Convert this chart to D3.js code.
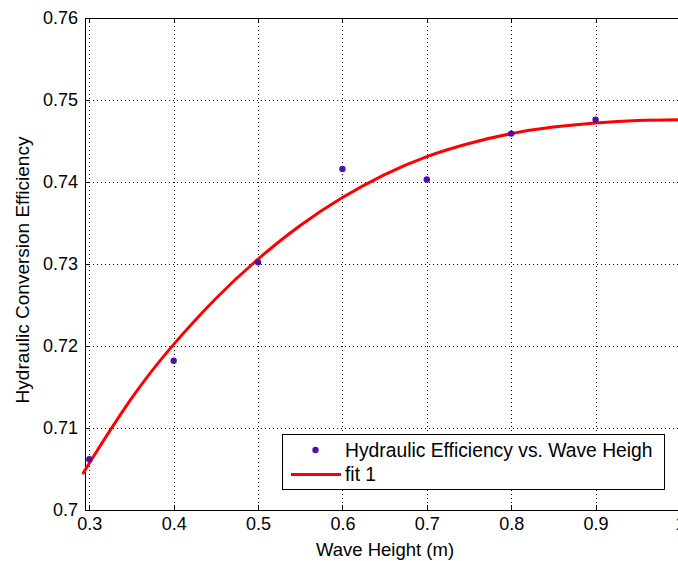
<!DOCTYPE html>
<html>
<head>
<meta charset="utf-8">
<script src="https://d3js.org/d3.v7.min.js"></script>
<style>
  body { margin: 0; background: #fff; }
  svg text { font-family: "Liberation Sans", Arial, sans-serif; fill: #000; }
</style>
</head>
<body>
<div id="chart"></div>
<script>
// measured points
var waveHeight = [0.3, 0.4, 0.5, 0.6, 0.7, 0.8, 0.9];
var efficiency = [0.7062, 0.7182, 0.7302, 0.7416, 0.7403, 0.7459, 0.7476];

// fit curve
var fitX = [0.2949, 0.3, 0.35, 0.4, 0.45, 0.5, 0.55, 0.6, 0.65, 0.7, 0.75, 0.8, 0.85, 0.9, 0.95, 1.0];
var fitY = [0.7048, 0.7057, 0.7136, 0.7202, 0.7258, 0.7306, 0.7347, 0.7381, 0.7409, 0.7431, 0.7447, 0.7459, 0.7467, 0.7472, 0.7475, 0.7476];

var xTicks = [0.3, 0.4, 0.5, 0.6, 0.7, 0.8, 0.9, 1];
var yTicks = [0.7, 0.71, 0.72, 0.73, 0.74, 0.75, 0.76];
var legendLabels = ["Hydraulic Efficiency vs. Wave Heigh", "fit 1"];

var W = 678, H = 561;
var mLeft = 85, mTop = 18, mRight = 680, mBottom = 510;

var x = d3.scaleLinear().domain([0.2949, 1.0]).range([mLeft, mRight]);
var y = d3.scaleLinear().domain([0.7, 0.76]).range([mBottom, mTop]);

var svg = d3.select("#chart").append("svg")
    .attr("width", W).attr("height", H);

// grid
var grid = svg.append("g").attr("stroke", "#000").attr("stroke-width", 1)
    .attr("stroke-dasharray", "1,3").attr("shape-rendering", "crispEdges");
grid.selectAll(".vx").data(xTicks).enter().append("line")
    .attr("x1", function(d) { return Math.round(x(d)) + 0.5; })
    .attr("x2", function(d) { return Math.round(x(d)) + 0.5; })
    .attr("y1", mTop).attr("y2", mBottom);
grid.selectAll(".hy").data(yTicks.slice(1, -1)).enter().append("line")
    .attr("y1", function(d) { return Math.round(y(d)) + 0.5; })
    .attr("y2", function(d) { return Math.round(y(d)) + 0.5; })
    .attr("x1", mLeft).attr("x2", mRight);

// axes
var fs = 18;
var xAxis = d3.axisBottom(x).tickValues(xTicks).tickSizeInner(-5).tickSizeOuter(0)
    .tickPadding(8).tickFormat(d3.format("~g"));
var gx = svg.append("g").attr("transform", "translate(0," + mBottom + ")").call(xAxis);
var xAxisTop = d3.axisTop(x).tickValues(xTicks).tickSizeInner(-5).tickSizeOuter(0).tickFormat("");
var gxt = svg.append("g").attr("transform", "translate(0," + mTop + ")").call(xAxisTop);
var yAxis = d3.axisLeft(y).tickValues(yTicks).tickSizeInner(-5).tickSizeOuter(0)
    .tickPadding(7).tickFormat(d3.format("~g"));
var gy = svg.append("g").attr("transform", "translate(" + mLeft + ",0)").call(yAxis);

[gx, gxt, gy].forEach(function(g) {
    g.selectAll("path, line").attr("stroke", "#000").attr("shape-rendering", "crispEdges");
    g.selectAll("text").style("font-size", fs + "px").style("font-family", "Liberation Sans, Arial, sans-serif");
});
gx.selectAll("text").attr("y", 6).attr("dy", "0.75em");

// axis labels
svg.append("text").attr("x", 385).attr("y", 556)
    .attr("text-anchor", "middle").style("font-size", "18.5px").text("Wave Height (m)");
svg.append("text").attr("transform", "translate(29,270) rotate(-90)")
    .attr("text-anchor", "middle").style("font-size", "19px").text("Hydraulic Conversion Efficiency");

// fit line
var fit = fitX.map(function(d, i) { return [d, fitY[i]]; });
var line = d3.line().x(function(d) { return x(d[0]); }).y(function(d) { return y(d[1]); })
    .curve(d3.curveNatural);
svg.append("path").datum(fit).attr("d", line)
    .attr("fill", "none").attr("stroke", "#ff0000").attr("stroke-width", 3);

// points
var markerColor = "#5010a8";
svg.selectAll(".pt").data(waveHeight).enter().append("circle")
    .attr("cx", function(d) { return x(d); })
    .attr("cy", function(d, i) { return y(efficiency[i]); })
    .attr("r", 3.2).attr("fill", markerColor);

// legend
var lg = svg.append("g");
lg.append("rect").attr("x", 282.5).attr("y", 434.5).attr("width", 382).attr("height", 55)
    .attr("fill", "#fff").attr("stroke", "#000").attr("stroke-width", 1);
lg.append("circle").attr("cx", 315.5).attr("cy", 450).attr("r", 3.2).attr("fill", markerColor);
lg.append("line").attr("x1", 291).attr("x2", 341).attr("y1", 474.5).attr("y2", 474.5)
    .attr("stroke", "#ff0000").attr("stroke-width", 3);
lg.selectAll(".lt").data(legendLabels).enter().append("text")
    .attr("x", 345).attr("y", function(d, i) { return 457 + i * 24; })
    .style("font-size", "19.3px").text(function(d) { return d; });
</script>
</body>
</html>
